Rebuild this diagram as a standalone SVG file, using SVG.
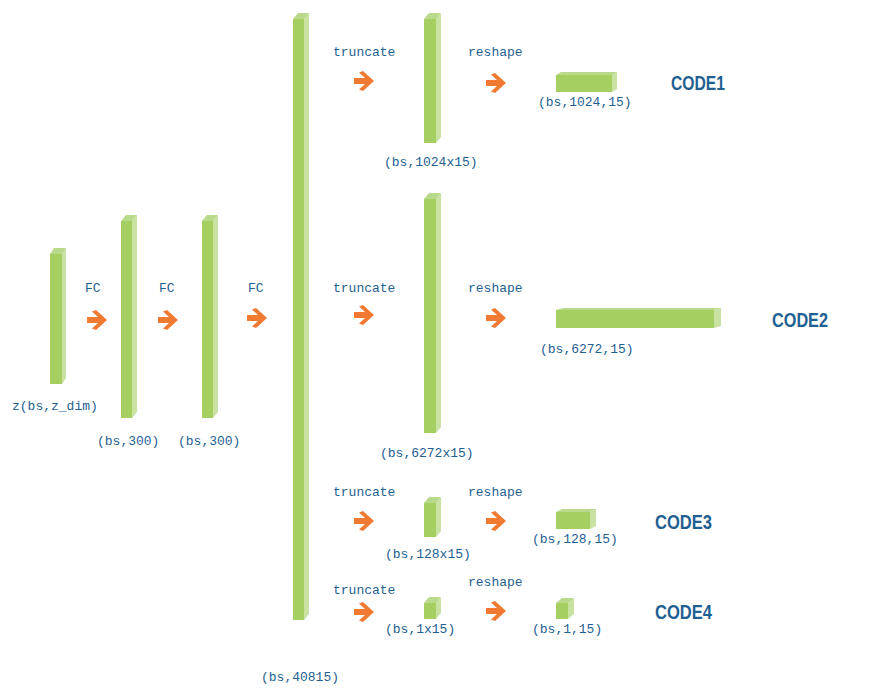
<svg xmlns="http://www.w3.org/2000/svg" width="888" height="697" viewBox="0 0 888 697">
<style>
.f{fill:#a6cf62}
.s{fill:#c8e2a2}
.t{fill:#b9da8a}
.lb{font-family:"Liberation Mono",monospace;font-size:13px;fill:#1f5f92}
.cd{font-family:"Liberation Sans",Arial,sans-serif;font-weight:bold;font-size:21px;fill:#1f5f92}
.ar{fill:#f07a32}
</style>
<defs>
<path id="arr" d="M0,-3 L11,-3 L5,-8.5 L9,-10 L20,0 L9,10 L5,8.5 L11,3 L0,3 Z"/>
</defs>
<rect width="888" height="697" fill="#ffffff"/>

<g id="z">
<rect class="f" x="50" y="254" width="12" height="130"/>
<polygon class="s" points="62,254 66,248 66,378 62,384"/>
<polygon class="t" points="50,254 54,248 66,248 62,254"/>
<text class="lb" x="12" y="410">z(bs,z_dim)</text>
</g>
<g id="fc1">
<rect class="f" x="121" y="221" width="11" height="197"/>
<polygon class="s" points="132,221 137,215 137,412 132,418"/>
<polygon class="t" points="121,221 126,215 137,215 132,221"/>
<text class="lb" x="97" y="445">(bs,300)</text>
</g>
<g id="fc2">
<rect class="f" x="202" y="221" width="11" height="197"/>
<polygon class="s" points="213,221 218,215 218,412 213,418"/>
<polygon class="t" points="202,221 207,215 218,215 213,221"/>
<text class="lb" x="178" y="445">(bs,300)</text>
</g>
<g id="fc3">
<rect class="f" x="293" y="19" width="11" height="601"/>
<polygon class="s" points="304,19 309,13 309,614 304,620"/>
<polygon class="t" points="293,19 298,13 309,13 304,19"/>
<text class="lb" x="261" y="681">(bs,40815)</text>
</g>
<g id="t1">
<rect class="f" x="424" y="19" width="12" height="124"/>
<polygon class="s" points="436,19 441,13 441,137 436,143"/>
<polygon class="t" points="424,19 429,13 441,13 436,19"/>
<text class="lb" x="384" y="166">(bs,1024x15)</text>
</g>
<g id="t2">
<rect class="f" x="424" y="199" width="12" height="234"/>
<polygon class="s" points="436,199 441,193 441,427 436,433"/>
<polygon class="t" points="424,199 429,193 441,193 436,199"/>
<text class="lb" x="380" y="457">(bs,6272x15)</text>
</g>
<g id="t3">
<rect class="f" x="424" y="503" width="12" height="34"/>
<polygon class="s" points="436,503 441,497 441,531 436,537"/>
<polygon class="t" points="424,503 429,497 441,497 436,503"/>
<text class="lb" x="385" y="558">(bs,128x15)</text>
</g>
<g id="t4">
<rect class="f" x="424" y="603" width="12" height="16"/>
<polygon class="s" points="436,603 441,597 441,613 436,619"/>
<polygon class="t" points="424,603 429,597 441,597 436,603"/>
<text class="lb" x="385" y="633">(bs,1x15)</text>
</g>
<g id="code1">
<rect class="f" x="556" y="75" width="56" height="17"/>
<polygon class="s" points="612,75 617,72 617,89 612,92"/>
<polygon class="t" points="556,75 561,72 617,72 612,75"/>
<text class="lb" x="538" y="106">(bs,1024,15)</text>
<text class="cd" x="671" y="90" textLength="54" lengthAdjust="spacingAndGlyphs">CODE1</text>
</g>
<g id="code2">
<rect class="f" x="556" y="310" width="158" height="18"/>
<polygon class="s" points="714,310 721,308 721,326 714,328"/>
<polygon class="t" points="556,310 563,308 721,308 714,310"/>
<text class="lb" x="540" y="353">(bs,6272,15)</text>
<text class="cd" x="772" y="327" textLength="56" lengthAdjust="spacingAndGlyphs">CODE2</text>
</g>
<g id="code3">
<rect class="f" x="556" y="512" width="34" height="17"/>
<polygon class="s" points="590,512 596,509 596,526 590,529"/>
<polygon class="t" points="556,512 562,509 596,509 590,512"/>
<text class="lb" x="532" y="543">(bs,128,15)</text>
<text class="cd" x="655" y="529" textLength="57" lengthAdjust="spacingAndGlyphs">CODE3</text>
</g>
<g id="code4">
<rect class="f" x="556" y="603" width="12" height="16"/>
<polygon class="s" points="568,603 574,598 574,614 568,619"/>
<polygon class="t" points="556,603 562,598 574,598 568,603"/>
<text class="lb" x="532" y="633">(bs,1,15)</text>
<text class="cd" x="655" y="619" textLength="57" lengthAdjust="spacingAndGlyphs">CODE4</text>
</g>

<g id="connectors">
<use href="#arr" class="ar" x="87" y="320"/>
<use href="#arr" class="ar" x="158" y="320"/>
<use href="#arr" class="ar" x="247" y="318"/>
<use href="#arr" class="ar" x="354" y="81"/>
<use href="#arr" class="ar" x="486" y="83"/>
<use href="#arr" class="ar" x="354" y="315"/>
<use href="#arr" class="ar" x="486" y="318"/>
<use href="#arr" class="ar" x="354" y="521"/>
<use href="#arr" class="ar" x="486" y="521"/>
<use href="#arr" class="ar" x="354" y="612"/>
<use href="#arr" class="ar" x="486" y="611"/>
<text class="lb" x="85" y="292">FC</text>
<text class="lb" x="159" y="292">FC</text>
<text class="lb" x="248" y="292">FC</text>
<text class="lb" x="333" y="56">truncate</text>
<text class="lb" x="468" y="56">reshape</text>
<text class="lb" x="333" y="292">truncate</text>
<text class="lb" x="468" y="292">reshape</text>
<text class="lb" x="333" y="496">truncate</text>
<text class="lb" x="468" y="496">reshape</text>
<text class="lb" x="333" y="594">truncate</text>
<text class="lb" x="468" y="586">reshape</text>
</g>
</svg>
